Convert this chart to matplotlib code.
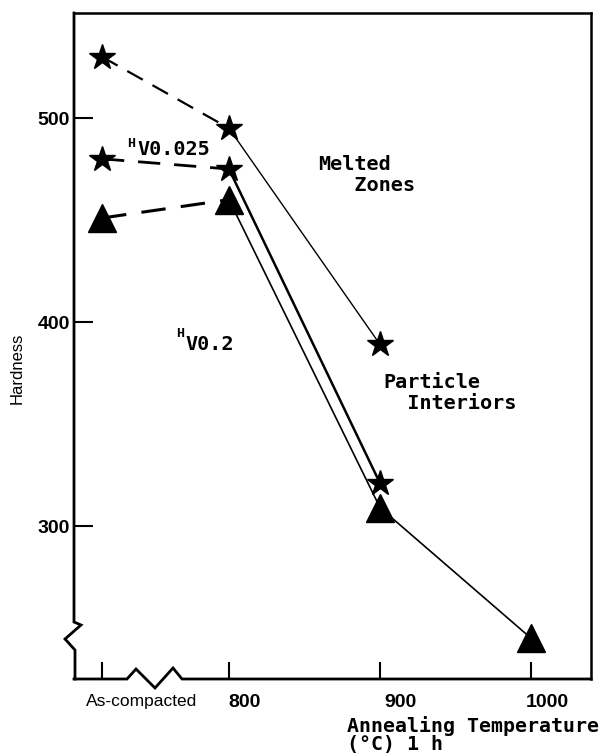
import matplotlib.pyplot as plt
from matplotlib.transforms import ScaledTranslation

# data
x_labels = ['As-compacted', '800', '900', '1000']
x_pos = [716, 800, 900, 1000]          # as-compacted drawn left of the axis break
melted_zones = [530, 495, 389]         # stars, Hv0.025
interiors_025 = [480, 475, 321]        # stars, Hv0.025
interiors_02 = [451, 460, 309, 245]    # triangles, Hv0.2
y_ticks = [300, 400, 500]

W, H = 613, 754
L, R, T, B = 74, 591, 13, 679

fig = plt.figure(figsize=(W / 100, H / 100), dpi=100)
ax = fig.add_axes([L / W, 1 - B / H, (R - L) / W, (B - T) / H])
ax.set_xlim(697.4, 1039.7)
ax.set_ylim(225, 551.5)


def fig_xy(px, py):
    return px / W, 1 - py / H


def ax_xy(pts):
    xs = [(p[0] - L) / (R - L) for p in pts]
    ys = [(B - p[1]) / (B - T) for p in pts]
    return xs, ys


def draw_series(vals, marker, ms, lw_dash, lw_solid):
    n = len(vals)
    ax.plot(x_pos[:2], vals[:2], color='black', lw=lw_dash, dashes=(8, 5))
    ax.plot(x_pos[1:n], vals[1:], color='black', lw=lw_solid)
    ax.plot(x_pos[:n], vals, ls='none', marker=marker, ms=ms,
            color='black', zorder=3)


draw_series(melted_zones, '*', 19, 1.6, 1.0)
draw_series(interiors_025, '*', 19, 2.0, 1.8)
draw_series(interiors_02, '^', 20, 2.2, 1.2)

# spines: left and bottom redrawn by hand with break marks
for s in ['left', 'bottom']:
    ax.spines[s].set_visible(False)
ax.spines['top'].set_linewidth(1.8)
ax.spines['right'].set_linewidth(1.8)

bottom_pts = [(L, B), (127, B), (136, 669), (155, 688), (173, 668),
              (182, B), (R, B)]
left_pts = [(L, T), (L, 622), (81, 625), (65, 639), (75, 650), (75, B)]
for pts in (bottom_pts, left_pts):
    xs, ys = ax_xy(pts)
    ax.plot(xs, ys, color='black', lw=2.0, transform=ax.transAxes,
            clip_on=False, solid_joinstyle='miter')

# ticks
ax.set_yticks(y_ticks)
ax.set_yticklabels([str(v) for v in y_ticks], fontfamily='Liberation Sans',
                   fontweight='bold', fontsize=14)
ax.tick_params(axis='y', direction='in', length=14, width=1.5, pad=3)

ax.set_xticks(x_pos)
ax.set_xticklabels(x_labels, fontfamily='Liberation Sans', fontsize=14,
                   fontweight='bold')
ax.tick_params(axis='x', direction='in', length=12, width=1.5, pad=11)
x_label_shift = [40, 16, 20, 16]
for lab, dx in zip(ax.get_xticklabels(), x_label_shift):
    lab.set_transform(lab.get_transform() +
                      ScaledTranslation(dx / 100, 0, fig.dpi_scale_trans))
xl = ax.get_xticklabels()[0]
xl.set_fontweight('normal')
xl.set_fontsize(12.5)

# axis titles (baseline of multi-line text = last line)
fig.text(*fig_xy(17, 368), 'Hardness', rotation=90, ha='center', va='center',
         fontfamily='Liberation Sans', fontsize=12)
fig.text(*fig_xy(347, 750), 'Annealing Temperature\n(°C) 1 h', ha='left',
         va='baseline', fontfamily='DejaVu Sans Mono', fontweight='bold',
         fontsize=14.3, linespacing=0.92)

# annotations
mono = dict(fontfamily='DejaVu Sans Mono', fontweight='bold')
fig.text(*fig_xy(127, 147), 'H', ha='left', va='baseline', fontsize=9.5, **mono)
fig.text(*fig_xy(137, 155), 'V0.025', ha='left', va='baseline', fontsize=14.5,
         **mono)
fig.text(*fig_xy(176, 337), 'H', ha='left', va='baseline', fontsize=9.5, **mono)
fig.text(*fig_xy(185, 350), 'V0.2', ha='left', va='baseline', fontsize=14.5,
         **mono)
fig.text(*fig_xy(318, 191), 'Melted\n   Zones', ha='left', va='baseline',
         fontsize=14.5, linespacing=1.15, **mono)
fig.text(*fig_xy(383, 409), 'Particle\n  Interiors', ha='left', va='baseline',
         fontsize=14.5, linespacing=1.15, **mono)

fig.savefig('out.png', dpi=100)
